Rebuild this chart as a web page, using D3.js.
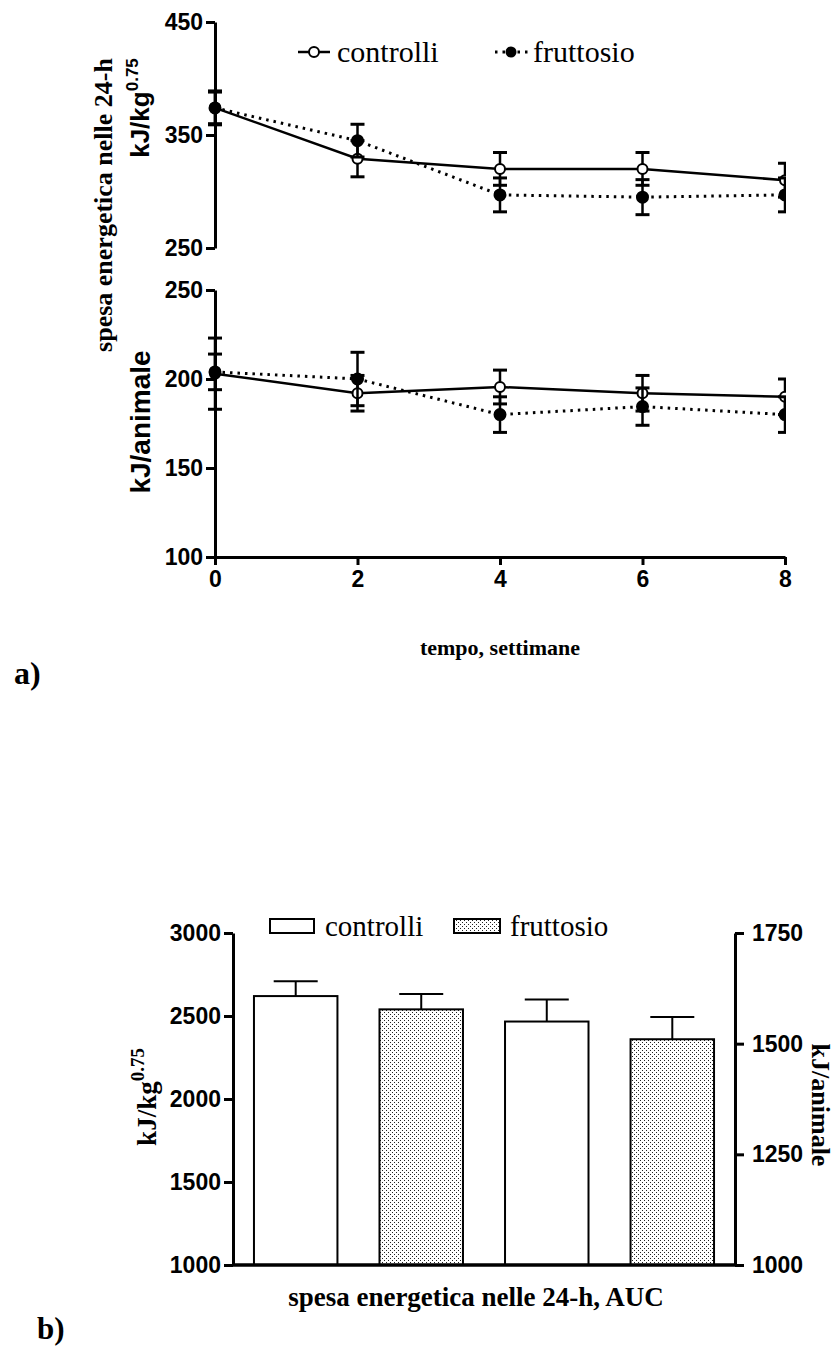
<!DOCTYPE html>
<html>
<head>
<meta charset="utf-8">
<script src="https://cdn.jsdelivr.net/npm/d3@7/dist/d3.min.js"></script>
<style>
	html, body { margin: 0; padding: 0; background: #fff; }
	svg { display: block; }
	.tick text { font-family: "Liberation Sans", Arial, sans-serif; font-weight: bold; font-size: 23px; fill: #000; }
	.serif { font-family: "Liberation Serif", "Times New Roman", serif; }
</style>
</head>
<body>
<svg id="chart" width="840" height="1349"></svg>
<script>
(function(){
	'use strict';

	// a) spesa energetica nelle 24-h nel tempo
	var weeks = [0, 2, 4, 6, 8];
	var seriesNames = ['controlli', 'fruttosio'];

	var controlliKg = [374, 329, 320, 320, 310];
	var controlliKgErr = [15, 16, 14.5, 14.5, 15];
	var fruttosioKg = [374, 345, 297, 295, 297];
	var fruttosioKgErr = [14, 14.5, 15, 15.5, 15];

	var controlliAn = [203, 192, 195.5, 192, 190];
	var controlliAnErr = [20, 10, 9.5, 10, 10];
	var fruttosioAn = [204, 200, 180, 184.5, 180];
	var fruttosioAnErr = [10, 15, 10, 10.5, 10];

	var kgTicks = [250, 350, 450];
	var anTicks = [100, 150, 200, 250];

	// b) AUC
	var barGroups = ['controlli', 'fruttosio', 'controlli', 'fruttosio'];
	var barUnits = ['kg', 'kg', 'animale', 'animale'];
	var barValues = [2620, 2540, 1550, 1510];
	var barErrors = [90, 92, 50, 50];
	var aucKgTicks = [1000, 1500, 2000, 2500, 3000];
	var aucAnTicks = [1000, 1250, 1500, 1750];

	var svg = d3.select('#chart');
	var fmt = d3.format('d');

	var defs = svg.append('defs');
	var pat = defs.append('pattern')
		.attr('id', 'stipple')
		.attr('patternUnits', 'userSpaceOnUse')
		.attr('width', 4)
		.attr('height', 4);
	pat.append('rect').attr('width', 4).attr('height', 4).attr('fill', '#fff');
	pat.append('rect').attr('x', 0).attr('y', 0).attr('width', 1).attr('height', 1).attr('fill', '#222');
	pat.append('rect').attr('x', 2).attr('y', 2).attr('width', 1).attr('height', 1).attr('fill', '#222');

	defs.append('clipPath').attr('id', 'clipTop')
		.append('rect').attr('x', 0).attr('y', 0).attr('width', 786).attr('height', 700);

	// ---------- chart a ----------
	var x = d3.scaleLinear().domain([0, 8]).range([215, 785]);
	var yKg = d3.scaleLinear().domain([250, 450]).range([248, 22]);
	var yAn = d3.scaleLinear().domain([100, 250]).range([557, 290]);

	function styleAxis(g){
		g.select('.domain').attr('stroke', '#000').attr('stroke-width', 3);
		g.selectAll('.tick line').attr('stroke', '#000').attr('stroke-width', 3);
	}

	svg.append('g')
		.attr('transform', 'translate(215,0)')
		.call(d3.axisLeft(yKg).tickValues(kgTicks).tickFormat(fmt).tickSize(9).tickSizeOuter(0).tickPadding(3))
		.call(styleAxis);

	svg.append('g')
		.attr('transform', 'translate(215,0)')
		.call(d3.axisLeft(yAn).tickValues(anTicks).tickFormat(fmt).tickSize(9).tickSizeOuter(0).tickPadding(3))
		.call(styleAxis);

	svg.append('g')
		.attr('transform', 'translate(0,557)')
		.call(d3.axisBottom(x).tickValues(weeks).tickFormat(fmt).tickSize(8).tickSizeOuter(0).tickPadding(6))
		.call(styleAxis);

	function drawSeries(yScale, vals, errs, filled){
		var pts = weeks.map(function(w, i){ return { w: w, v: vals[i], e: errs[i] }; });
		var g = svg.append('g').attr('clip-path', 'url(#clipTop)');

		g.append('path')
			.datum(pts)
			.attr('fill', 'none')
			.attr('stroke', '#000')
			.attr('stroke-width', filled ? 3 : 2.5)
			.attr('stroke-dasharray', filled ? '2.5,5' : null)
			.attr('d', d3.line().x(function(d){ return x(d.w); }).y(function(d){ return yScale(d.v); }));

		var eb = g.selectAll(null).data(pts).enter().append('g');
		eb.append('line')
			.attr('x1', function(d){ return x(d.w); })
			.attr('x2', function(d){ return x(d.w); })
			.attr('y1', function(d){ return yScale(d.v - d.e); })
			.attr('y2', function(d){ return yScale(d.v + d.e); })
			.attr('stroke', '#000').attr('stroke-width', 2.5);
		[-1, 1].forEach(function(s){
			eb.append('line')
				.attr('x1', function(d){ return x(d.w) - 7; })
				.attr('x2', function(d){ return x(d.w) + 7; })
				.attr('y1', function(d){ return yScale(d.v + s * d.e); })
				.attr('y2', function(d){ return yScale(d.v + s * d.e); })
				.attr('stroke', '#000').attr('stroke-width', 3);
		});
		return { g: g, pts: pts };
	}

	function drawMarkers(s, yScale, filled){
		s.g.selectAll(null).data(s.pts).enter().append('circle')
			.attr('cx', function(d){ return x(d.w); })
			.attr('cy', function(d){ return yScale(d.v); })
			.attr('r', filled ? 5.5 : 5)
			.attr('fill', filled ? '#000' : '#fff')
			.attr('stroke', '#000')
			.attr('stroke-width', 2);
	}

	var sCK = drawSeries(yKg, controlliKg, controlliKgErr, false);
	var sFK = drawSeries(yKg, fruttosioKg, fruttosioKgErr, true);
	var sCA = drawSeries(yAn, controlliAn, controlliAnErr, false);
	var sFA = drawSeries(yAn, fruttosioAn, fruttosioAnErr, true);
	drawMarkers(sCK, yKg, false);
	drawMarkers(sFK, yKg, true);
	drawMarkers(sCA, yAn, false);
	drawMarkers(sFA, yAn, true);

	// legend a
	var lg = svg.append('g');
	lg.append('line').attr('x1', 298).attr('x2', 330).attr('y1', 52).attr('y2', 52)
		.attr('stroke', '#000').attr('stroke-width', 2.5);
	lg.append('circle').attr('cx', 314).attr('cy', 52).attr('r', 5)
		.attr('fill', '#fff').attr('stroke', '#000').attr('stroke-width', 2);
	lg.append('text').attr('class', 'serif').attr('x', 337).attr('y', 62)
		.attr('font-size', 30).text(seriesNames[0]);
	lg.append('line').attr('x1', 495).attr('x2', 528).attr('y1', 52).attr('y2', 52)
		.attr('stroke', '#000').attr('stroke-width', 3).attr('stroke-dasharray', '2.5,5');
	lg.append('circle').attr('cx', 511).attr('cy', 52).attr('r', 5.5).attr('fill', '#000');
	lg.append('text').attr('class', 'serif').attr('x', 533).attr('y', 62)
		.attr('font-size', 30).text(seriesNames[1]);

	// titles a
	svg.append('text')
		.attr('transform', 'translate(149,108) rotate(-90)')
		.attr('text-anchor', 'middle')
		.attr('font-family', '"Liberation Sans", Arial, sans-serif')
		.attr('font-weight', 'bold')
		.attr('font-size', 26)
		.call(function(t){
			t.append('tspan').text('kJ/kg');
			t.append('tspan').attr('dy', -11).attr('font-size', 17).text('0.75');
		});

	svg.append('text')
		.attr('transform', 'translate(150,422) rotate(-90)')
		.attr('text-anchor', 'middle')
		.attr('font-family', '"Liberation Sans", Arial, sans-serif')
		.attr('font-weight', 'bold')
		.attr('font-size', 28)
		.text('kJ/animale');

	svg.append('text')
		.attr('class', 'serif')
		.attr('transform', 'translate(112,205) rotate(-90)')
		.attr('text-anchor', 'middle')
		.attr('font-weight', 'bold')
		.attr('font-size', 26)
		.text('spesa energetica nelle 24-h');

	svg.append('text')
		.attr('class', 'serif')
		.attr('x', 500).attr('y', 655)
		.attr('text-anchor', 'middle')
		.attr('font-weight', 'bold')
		.attr('font-size', 22)
		.text('tempo, settimane');

	svg.append('text')
		.attr('class', 'serif')
		.attr('x', 14).attr('y', 684)
		.attr('font-weight', 'bold')
		.attr('font-size', 32)
		.text('a)');

	// ---------- chart b ----------
	var band = d3.scaleBand()
		.domain(d3.range(barValues.length))
		.range([233, 735])
		.paddingInner(0.335)
		.paddingOuter(0.167);
	var yAucKg = d3.scaleLinear().domain([1000, 3000]).range([1265, 933]);
	var yAucAn = d3.scaleLinear().domain([1000, 1750]).range([1265, 933]);

	function yFor(i){ return barUnits[i] === 'kg' ? yAucKg : yAucAn; }

	var bars = svg.append('g').selectAll('g').data(barValues).enter().append('g');
	bars.append('line')
		.attr('x1', function(d, i){ return band(i) + band.bandwidth() / 2; })
		.attr('x2', function(d, i){ return band(i) + band.bandwidth() / 2; })
		.attr('y1', function(d, i){ return yFor(i)(d); })
		.attr('y2', function(d, i){ return yFor(i)(d + barErrors[i]); })
		.attr('stroke', '#000').attr('stroke-width', 2);
	bars.append('line')
		.attr('x1', function(d, i){ return band(i) + band.bandwidth() / 2 - 22; })
		.attr('x2', function(d, i){ return band(i) + band.bandwidth() / 2 + 22; })
		.attr('y1', function(d, i){ return yFor(i)(d + barErrors[i]); })
		.attr('y2', function(d, i){ return yFor(i)(d + barErrors[i]); })
		.attr('stroke', '#000').attr('stroke-width', 2);
	bars.append('rect')
		.attr('x', function(d, i){ return band(i); })
		.attr('width', band.bandwidth())
		.attr('y', function(d, i){ return yFor(i)(d); })
		.attr('height', function(d, i){ return yFor(i)(1000) - yFor(i)(d); })
		.attr('fill', function(d, i){ return barGroups[i] === 'fruttosio' ? 'url(#stipple)' : '#fff'; })
		.attr('stroke', '#000').attr('stroke-width', 2);

	svg.append('g')
		.attr('transform', 'translate(233,0)')
		.call(d3.axisLeft(yAucKg).tickValues(aucKgTicks).tickFormat(fmt).tickSize(9).tickSizeOuter(0).tickPadding(3))
		.call(styleAxis);

	svg.append('g')
		.attr('transform', 'translate(735,0)')
		.call(d3.axisRight(yAucAn).tickValues(aucAnTicks).tickFormat(fmt).tickSize(9).tickSizeOuter(0).tickPadding(8))
		.call(styleAxis);

	svg.append('line')
		.attr('x1', 233).attr('x2', 735)
		.attr('y1', yAucKg(1000)).attr('y2', yAucKg(1000))
		.attr('stroke', '#000').attr('stroke-width', 3.5);

	// legend b
	var lb = svg.append('g');
	lb.append('rect').attr('x', 270).attr('y', 919).attr('width', 44).attr('height', 14)
		.attr('fill', '#fff').attr('stroke', '#000').attr('stroke-width', 2);
	lb.append('text').attr('class', 'serif').attr('x', 325).attr('y', 936)
		.attr('font-size', 29).text(barGroups[0]);
	lb.append('rect').attr('x', 454).attr('y', 919).attr('width', 46).attr('height', 14)
		.attr('fill', 'url(#stipple)').attr('stroke', '#000').attr('stroke-width', 2);
	lb.append('text').attr('class', 'serif').attr('x', 510).attr('y', 936)
		.attr('font-size', 29).text(barGroups[1]);

	// titles b
	svg.append('text')
		.attr('class', 'serif')
		.attr('transform', 'translate(156,1097) rotate(-90)')
		.attr('text-anchor', 'middle')
		.attr('font-weight', 'bold')
		.attr('font-size', 27)
		.call(function(t){
			t.append('tspan').text('kJ/kg');
			t.append('tspan').attr('dy', -12).attr('font-size', 19).text('0.75');
		});

	svg.append('text')
		.attr('class', 'serif')
		.attr('transform', 'translate(812,1105) rotate(90)')
		.attr('text-anchor', 'middle')
		.attr('font-weight', 'bold')
		.attr('font-size', 26)
		.text('kJ/animale');

	svg.append('text')
		.attr('class', 'serif')
		.attr('x', 476).attr('y', 1306)
		.attr('text-anchor', 'middle')
		.attr('font-weight', 'bold')
		.attr('font-size', 27)
		.text('spesa energetica nelle 24-h, AUC');

	svg.append('text')
		.attr('class', 'serif')
		.attr('x', 37).attr('y', 1339)
		.attr('font-weight', 'bold')
		.attr('font-size', 31)
		.text('b)');

})();
</script>
</body>
</html>
